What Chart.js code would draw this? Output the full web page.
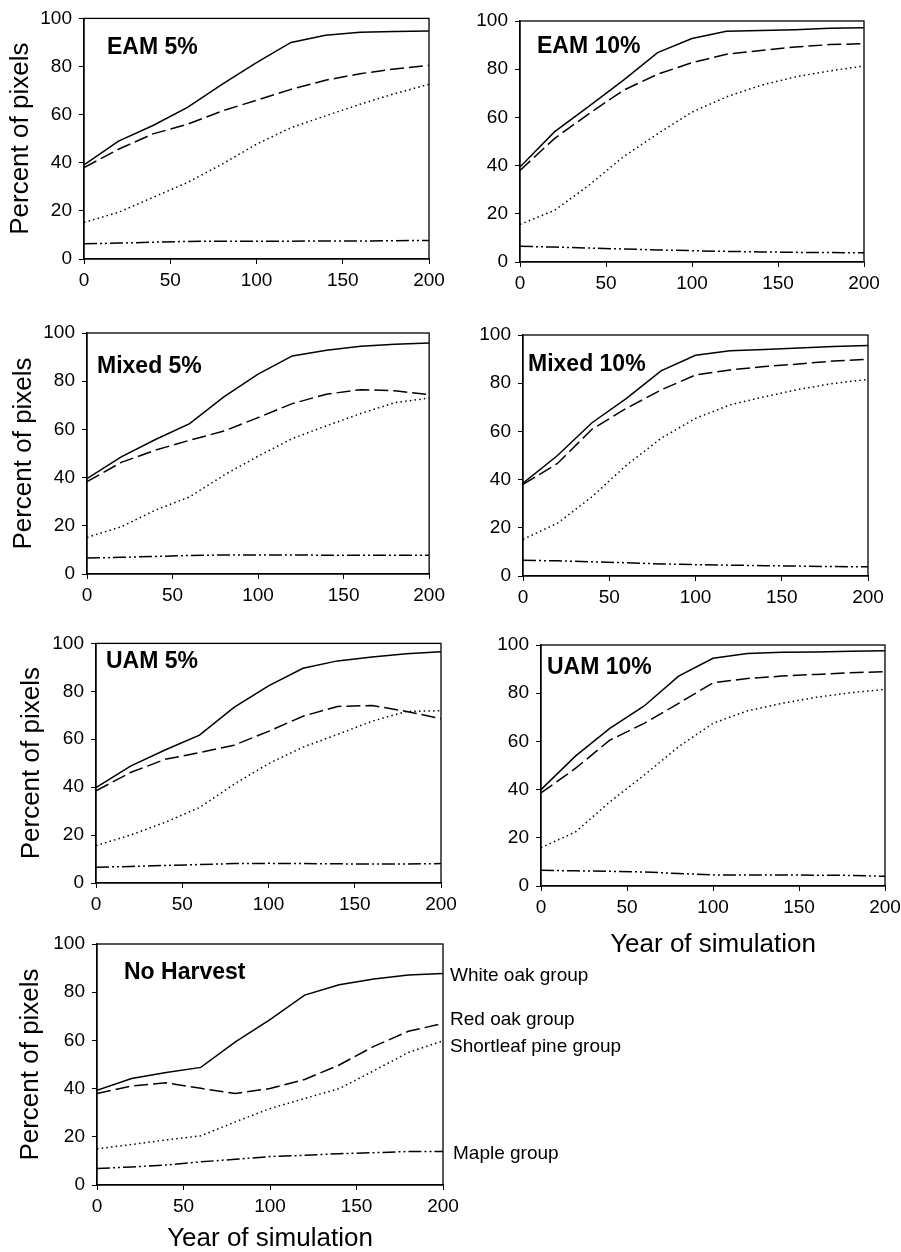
<!DOCTYPE html>
<html>
<head>
<meta charset="utf-8">
<script src="https://cdn.jsdelivr.net/npm/chart.js@4.4.1/dist/chart.umd.min.js"></script>
<style>
  body { margin: 0; background: #fff; }
  #page { position: relative; width: 901px; height: 1252px; overflow: hidden; background: #fff; }
  #page canvas { position: absolute; }
</style>
</head>
<body>
<div id="page"></div>
<script>
// years on the x axis, one value every 20 years
const years = [0, 20, 40, 60, 80, 100, 120, 140, 160, 180, 200];
const xTickValues = [0, 50, 100, 150, 200];
const yTickValues = [0, 20, 40, 60, 80, 100];

const groups = ['White oak group', 'Red oak group', 'Shortleaf pine group', 'Maple group'];
const panelTitles = ['EAM 5%', 'EAM 10%', 'Mixed 5%', 'Mixed 10%', 'UAM 5%', 'UAM 10%', 'No Harvest'];

// percent of pixels, rows in the order of `groups`
const eam5 = [
  [39.1, 49, 55.5, 63, 72.6, 81.6, 90, 93, 94.2, 94.6, 94.8],
  [38, 45.6, 52, 56, 61.5, 66, 70.5, 74.3, 77, 79, 80.5],
  [15.2, 19.4, 25.6, 31.8, 39.4, 47.7, 54.6, 59.5, 64.3, 68.7, 72.6],
  [6.3, 6.6, 7, 7.3, 7.4, 7.4, 7.4, 7.5, 7.5, 7.6, 7.7]
];
const eam10 = [
  [39.4, 54, 64.6, 75.4, 86.9, 92.7, 95.7, 96.1, 96.4, 97, 97.2],
  [38, 51.2, 61.5, 71.2, 77.9, 82.7, 86.2, 87.8, 89.2, 90.2, 90.6],
  [15.6, 21.4, 31.8, 43.6, 53.2, 62.2, 68.5, 73.3, 76.8, 79.3, 81.3],
  [6.5, 6.2, 5.8, 5.4, 5.0, 4.7, 4.4, 4.2, 4.0, 3.9, 3.8]
];
const mixed5 = [
  [39.6, 48.6, 55.8, 62.4, 73.5, 82.9, 90.5, 92.8, 94.5, 95.3, 95.9],
  [38.3, 46.3, 51.4, 55.5, 59.3, 64.9, 70.7, 74.6, 76.5, 76, 74.4],
  [15.2, 19.6, 26.5, 32, 41, 48.9, 56.2, 61.5, 66.6, 71.1, 73],
  [6.6, 6.9, 7.3, 7.7, 7.9, 7.9, 7.9, 7.8, 7.8, 7.8, 7.8]
];
const mixed10 = [
  [38.5, 50, 63.6, 73.7, 85.1, 91.6, 93.5, 94, 94.6, 95.2, 95.6],
  [38, 46.7, 60.9, 69.6, 77.2, 83.4, 85.5, 86.9, 88, 89.2, 89.9],
  [15.2, 21.9, 32.9, 46, 57.1, 65.4, 71, 74.4, 77.5, 79.9, 81.6],
  [6.5, 6.3, 5.9, 5.5, 5.0, 4.7, 4.5, 4.3, 4.1, 3.9, 3.8]
];
const uam5 = [
  [39.8, 48.8, 55.5, 61.7, 73.3, 82.3, 89.6, 92.7, 94.3, 95.7, 96.5],
  [38.5, 46.1, 51.6, 54.4, 57.5, 63.3, 69.6, 73.7, 74.1, 71.6, 68.6],
  [15.6, 20, 25.3, 31.5, 41.2, 49.8, 56.7, 62, 67.5, 71.6, 71.9],
  [6.6, 6.9, 7.3, 7.7, 8.1, 8.2, 8.1, 8, 7.9, 7.9, 8.1]
];
const uam10 = [
  [40, 53.9, 65.4, 74.7, 87.1, 94.5, 96.5, 97, 97.1, 97.4, 97.6],
  [38.6, 48.8, 60.5, 67.5, 75.8, 84.3, 86.1, 87.1, 87.8, 88.5, 88.9],
  [15.9, 22.4, 34.9, 46, 57.8, 67.5, 72.7, 75.8, 78.3, 80.2, 81.6],
  [6.5, 6.3, 6.1, 5.8, 5.2, 4.6, 4.6, 4.6, 4.5, 4.4, 4.0]
];
const noHarvest = [
  [39.3, 44.2, 46.7, 48.8, 59.4, 68.6, 78.8, 83.1, 85.5, 87.1, 87.8],
  [38, 41.1, 42.4, 40.1, 38, 40, 43.8, 49.8, 57.5, 63.8, 67],
  [15, 16.8, 18.7, 20.4, 26.2, 31.7, 35.9, 40, 47.4, 55, 59.8],
  [6.8, 7.5, 8.3, 9.6, 10.7, 11.8, 12.3, 13, 13.4, 13.9, 13.9]
];
const panelData = [eam5, eam10, mixed5, mixed10, uam5, uam10, noHarvest];

// line look per group
const lineDash = [[], [14, 5], [1.5, 3.2], [13, 3, 2, 3, 2, 3]];

// canvas box [x, y, w, h], plot area [left, top, right, bottom], title offset, axis title padding
const layout = [
  { box: [0, 0, 450, 300],    plot: [84, 17, 429, 259],    tdx: 23, tdy: 36, yPad: 8 },
  { box: [450, 0, 470, 300],  plot: [520, 21, 864, 262],   tdx: 17, tdy: 32 },
  { box: [0, 310, 450, 300],  plot: [87, 333, 432, 574],   tdx: 10, tdy: 40, yPad: 11 },
  { box: [450, 310, 470, 300], plot: [523, 335, 868, 576], tdx: 5,  tdy: 36 },
  { box: [0, 625, 470, 300],  plot: [96, 642, 441, 883],   tdx: 10, tdy: 25, yPad: 19 },
  { box: [450, 625, 470, 345], plot: [541, 645, 885, 886], tdx: 6,  tdy: 29, xPad: 12 },
  { box: [0, 925, 640, 327],  plot: [97, 944, 443, 1185],  tdx: 27, tdy: 35, yPad: 18, xPad: 0,
    ends: [[7, 2], [7, -3.5], [7, 5.5], [10, 2]] }
];

const FONT = "'Liberation Sans', Arial, sans-serif";
Chart.defaults.font.family = FONT;
Chart.defaults.color = '#000';

function panelPlugin(title, L) {
  return {
    id: 'panelText',
    afterDraw(chart) {
      const { ctx, chartArea: a } = chart;
      ctx.save();
      ctx.strokeStyle = '#000';
      ctx.lineWidth = 1.3;
      ctx.strokeRect(a.left, a.top, a.right - a.left, a.bottom - a.top);
      ctx.fillStyle = '#000';
      ctx.font = 'bold 23px ' + FONT;
      ctx.textBaseline = 'alphabetic';
      ctx.fillText(title, a.left + L.tdx, a.top + L.tdy);
      if (L.ends) {
        ctx.font = '19px ' + FONT;
        ctx.textBaseline = 'middle';
        const ys = chart.scales.y;
        chart.data.datasets.forEach((ds, i) => {
          const last = ds.data[ds.data.length - 1].y;
          ctx.fillText(ds.label, a.right + L.ends[i][0], ys.getPixelForValue(last) + L.ends[i][1]);
        });
      }
      ctx.restore();
    }
  };
}

const page = document.getElementById('page');

panelData.forEach((rows, p) => {
  const L = layout[p];
  const [bx, by, bw, bh] = L.box;
  const [pl, pt, pr, pb] = L.plot;
  const canvas = document.createElement('canvas');
  canvas.width = bw;
  canvas.height = bh;
  canvas.style.left = bx + 'px';
  canvas.style.top = by + 'px';
  page.appendChild(canvas);

  const datasets = rows.map((vals, g) => ({
    label: groups[g],
    data: years.map((x, i) => ({ x: x, y: vals[i] })),
    borderColor: '#000',
    borderWidth: 1.5,
    borderDash: lineDash[g],
    pointRadius: 0,
    tension: 0,
    fill: false
  }));

  const gridOpts = { display: true, drawOnChartArea: false, drawTicks: true, tickLength: 5, color: '#000', lineWidth: 1 };

  new Chart(canvas, {
    type: 'line',
    data: { datasets: datasets },
    options: {
      responsive: false,
      animation: false,
      layout: { padding: { left: 0, top: pt - by, right: bx + bw - pr, bottom: 0 } },
      plugins: { legend: { display: false }, tooltip: { enabled: false } },
      scales: {
        x: {
          type: 'linear', min: 0, max: 200,
          afterBuildTicks: s => { s.ticks = xTickValues.map(v => ({ value: v })); },
          afterFit: s => { s.height = by + bh - pb; },
          ticks: { font: { size: 19 }, color: '#000', padding: 5, maxRotation: 0, autoSkip: false },
          grid: gridOpts,
          border: { display: true, color: '#000', width: 1.3 },
          title: {
            display: L.xPad !== undefined, text: 'Year of simulation', color: '#000',
            font: { size: 26, lineHeight: 1 }, padding: { top: 0, bottom: L.xPad || 0 }
          }
        },
        y: {
          min: 0, max: 100,
          afterBuildTicks: s => { s.ticks = yTickValues.map(v => ({ value: v })); },
          afterFit: s => { s.width = pl - bx; },
          ticks: { font: { size: 19 }, color: '#000', padding: 7 },
          grid: gridOpts,
          border: { display: true, color: '#000', width: 1.3 },
          title: {
            display: L.yPad !== undefined, text: 'Percent of pixels', color: '#000',
            font: { size: 26, lineHeight: 1 }, padding: { top: L.yPad || 0, bottom: 0 }
          }
        }
      }
    },
    plugins: [panelPlugin(panelTitles[p], L)]
  });
});
</script>
</body>
</html>
